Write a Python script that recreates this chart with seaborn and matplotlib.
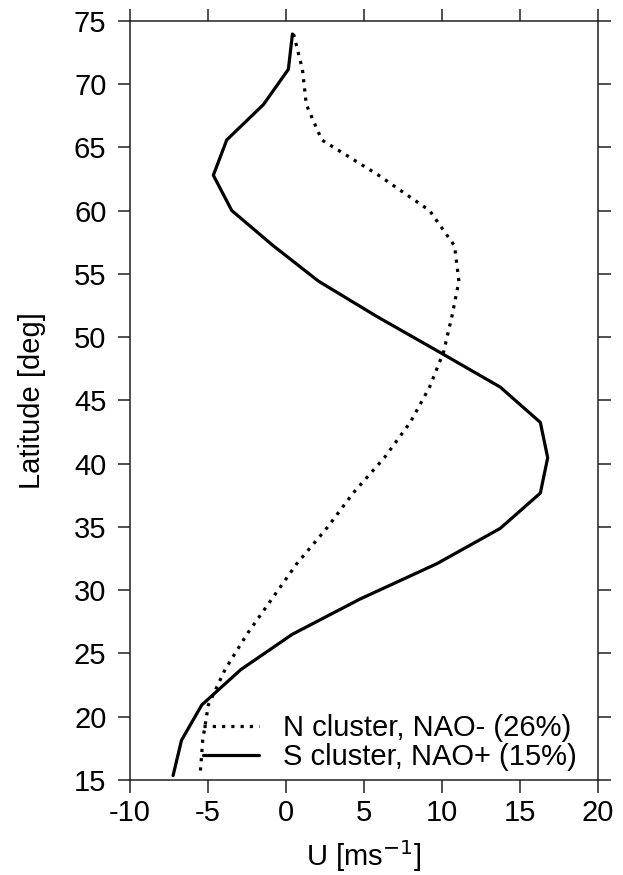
import matplotlib
matplotlib.use("Agg")
import matplotlib.pyplot as plt
import numpy as np
import pandas as pd
import seaborn as sb

# latitudes of the profile (Gaussian grid rows)
latitude = [73.953, 71.163, 68.372, 65.581, 62.791, 60.000, 57.209, 54.419,
            51.628, 48.837, 46.047, 43.256, 40.465, 37.674, 34.884, 32.093,
            29.302, 26.512, 23.721, 20.930, 18.139, 15.349]

# zonal wind for the two clusters
u_north = [0.48, 1.05, 1.30, 2.29, 5.93, 9.20, 10.80, 11.08, 10.63, 10.10, 9.20,
           7.96, 6.30, 4.30, 2.60, 0.69, -0.91, -2.51, -3.91, -4.98, -5.34, -5.51]
u_south = [0.41, 0.15, -1.45, -3.80, -4.66, -3.48, -0.81, 2.08, 5.82, 9.80, 13.73,
           16.30, 16.77, 16.30, 13.73, 9.67, 4.75, 0.40, -2.90, -5.40, -6.70, -7.24]

label_north = "N cluster, NAO- (26%)"
label_south = "S cluster, NAO+ (15%)"

x_ticks = [-10, -5, 0, 5, 10, 15, 20]
y_ticks = [15, 20, 25, 30, 35, 40, 45, 50, 55, 60, 65, 70, 75]

sb.set_style("ticks")
plt.rcParams['font.family'] = ['Liberation Sans', 'DejaVu Sans']
plt.rcParams['axes.unicode_minus'] = False
plt.rcParams['text.color'] = 'black'
plt.rcParams['axes.labelcolor'] = 'black'

df_n = pd.DataFrame({'u': u_north, 'lat': latitude})
df_s = pd.DataFrame({'u': u_south, 'lat': latitude})

fig = plt.figure(figsize=(6.23, 8.75), dpi=100)
ax = fig.add_axes([0.2087, 0.1086, 0.7513, 0.8677])

sb.lineplot(data=df_n, x='u', y='lat', sort=False, estimator=None, ax=ax,
            color='black', linewidth=2.3, linestyle=(0, (1, 1.9)),
            dash_capstyle='butt', label=label_north)
sb.lineplot(data=df_s, x='u', y='lat', sort=False, estimator=None, ax=ax,
            color='black', linewidth=2.3, label=label_south)

ax.set_xlim(-10, 20)
ax.set_ylim(15, 75)
ax.set_xticks(x_ticks)
ax.set_yticks(y_ticks)
ax.set_xlabel('U [ms$^{-1}$]', fontsize=21, labelpad=8)
ax.set_ylabel('Latitude [deg]', fontsize=21, labelpad=20)

for side in ['top', 'right', 'bottom', 'left']:
    ax.spines[side].set_visible(True)
    ax.spines[side].set_linewidth(1.1)
    ax.spines[side].set_color('#222222')
ax.tick_params(which='both', direction='out', length=9, width=1.1,
               color='#222222', labelcolor='black', labelsize=21,
               top=True, right=True, labeltop=False, labelright=False)
ax.tick_params(axis='x', pad=5)
ax.tick_params(axis='y', pad=8)

leg = ax.legend(loc='lower right', bbox_to_anchor=(0.985, -0.008),
                frameon=False, fontsize=21,
                handlelength=1.95, handletextpad=0.8, labelspacing=0.05,
                borderaxespad=0.1)

plt.savefig('out.png', dpi=100)
